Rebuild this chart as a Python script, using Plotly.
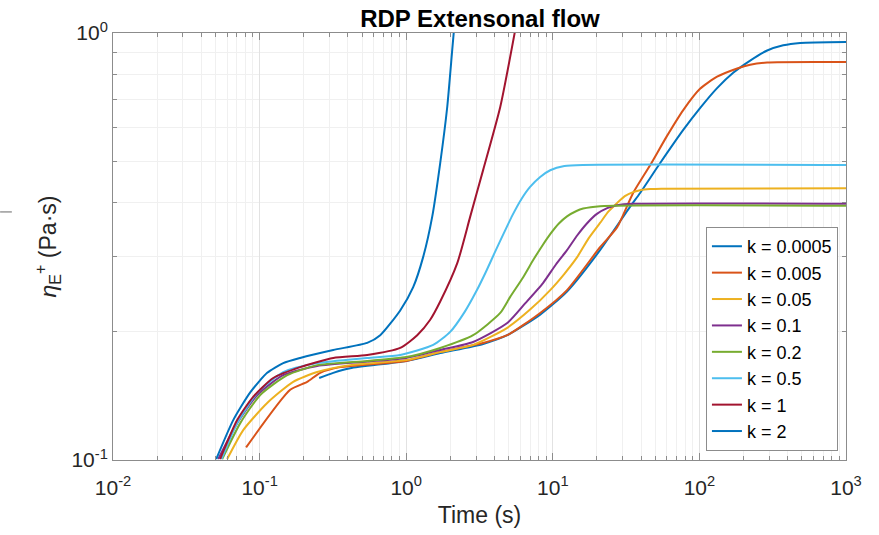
import plotly.graph_objects as go

# time (s) and transient extensional viscosity (Pa.s)
t_k0p0005 = [0.255, 0.318, 0.415, 1.0, 1.706, 3.35, 4.89, 8.2, 12.5, 21, 33.7, 39.4, 54, 77.6, 101, 132, 170, 222, 290, 373, 487, 1000]
eta_k0p0005 = [0.1556, 0.160, 0.164, 0.1706, 0.178, 0.187, 0.196, 0.219, 0.248, 0.310, 0.392, 0.422, 0.496, 0.593, 0.667, 0.743, 0.807, 0.862, 0.910, 0.936, 0.948, 0.953]

t_k0p005 = [0.0809, 0.1617, 0.211, 0.259, 0.355, 1.0, 1.706, 3.35, 4.89, 8.2, 12.5, 21, 27.5, 35.3, 46.1, 60.3, 77.6, 101, 132, 181, 222, 290, 1000]
eta_k0p005 = [0.107, 0.146, 0.1524, 0.160, 0.165, 0.1706, 0.179, 0.188, 0.196, 0.221, 0.250, 0.315, 0.351, 0.422, 0.490, 0.575, 0.660, 0.740, 0.790, 0.826, 0.843, 0.853, 0.855]

t_k0p05 = [0.0601, 0.0773, 0.1127, 0.1694, 0.247, 0.415, 1.0, 1.706, 2.86, 4.89, 7.0, 9.6, 12.0, 14.7, 17.5, 21, 24, 27.5, 31, 35.3, 40, 46.1, 55, 1000]
eta_k0p05 = [0.1005, 0.1175, 0.136, 0.1524, 0.1607, 0.1668, 0.1715, 0.179, 0.186, 0.204, 0.225, 0.250, 0.273, 0.299, 0.330, 0.359, 0.382, 0.400, 0.415, 0.424, 0.429, 0.431, 0.432, 0.433]

t_k0p1 = [0.0522, 0.0703, 0.0964, 0.1449, 0.247, 0.542, 1.0, 1.706, 2.86, 4.89, 6.5, 8.6, 10.5, 12.5, 14.7, 17.2, 20, 23.5, 27.5, 35.3, 1000]
eta_k0p1 = [0.1005, 0.122, 0.142, 0.158, 0.166, 0.170, 0.1734, 0.181, 0.189, 0.2093, 0.233, 0.260, 0.287, 0.310, 0.336, 0.359, 0.377, 0.389, 0.395, 0.398, 0.398]

t_k0p2 = [0.0556, 0.0738, 0.101, 0.1543, 0.247, 0.542, 1.0, 1.706, 2.86, 4.38, 5.12, 6.28, 7.35, 8.5, 9.6, 11.0, 12.5, 14.5, 16.1, 21, 1000]
eta_k0p2 = [0.1005, 0.122, 0.142, 0.158, 0.1668, 0.1706, 0.1742, 0.183, 0.196, 0.221, 0.241, 0.268, 0.294, 0.318, 0.338, 0.358, 0.372, 0.383, 0.388, 0.393, 0.394]

t_k0p5 = [0.055, 0.0703, 0.0964, 0.1449, 0.247, 0.542, 0.91, 1.528, 1.995, 2.5, 3.0, 3.5, 4.0, 4.6, 5.3, 6.1, 7.0, 8.2, 9.6, 12.0, 16.0, 1000]
eta_k0p5 = [0.1005, 0.122, 0.1435, 0.1607, 0.1686, 0.1734, 0.1762, 0.186, 0.1995, 0.222, 0.248, 0.276, 0.305, 0.338, 0.374, 0.408, 0.436, 0.460, 0.477, 0.488, 0.491, 0.491]

t_k1 = [0.0538, 0.0703, 0.0904, 0.1239, 0.189, 0.318, 0.542, 0.91, 1.189, 1.458, 1.706, 2.23, 2.73, 3.35, 4.38, 5.54]
eta_k1 = [0.1005, 0.124, 0.1406, 0.1556, 0.165, 0.1734, 0.1762, 0.183, 0.196, 0.213, 0.235, 0.289, 0.371, 0.478, 0.671, 1.016]

t_k2 = [0.0506, 0.0661, 0.0863, 0.1127, 0.1449, 0.189, 0.318, 0.542, 0.665, 0.91, 1.116, 1.306, 1.504, 1.706, 1.905, 2.06, 2.13]
eta_k2 = [0.1005, 0.124, 0.144, 0.160, 0.1686, 0.1734, 0.181, 0.188, 0.196, 0.224, 0.254, 0.299, 0.371, 0.496, 0.671, 0.912, 1.04]

labels = ["k = 0.0005", "k = 0.005", "k = 0.05", "k = 0.1", "k = 0.2", "k = 0.5", "k = 1", "k = 2"]
colors = ["#0072BD", "#D95319", "#EDB120", "#7E2F8E", "#77AC30", "#4DBEEE", "#A2142F", "#0072BD"]

series = [
    (t_k0p0005, eta_k0p0005),
    (t_k0p005, eta_k0p005),
    (t_k0p05, eta_k0p05),
    (t_k0p1, eta_k0p1),
    (t_k0p2, eta_k0p2),
    (t_k0p5, eta_k0p5),
    (t_k1, eta_k1),
    (t_k2, eta_k2),
]

x_major = [10.0 ** e for e in range(-2, 4)]
x_minor = [m * 10.0 ** e for e in range(-2, 3) for m in range(2, 10)]
y_major = [0.1, 1.0]
y_minor = [m / 10 for m in range(2, 10)]

FONT = "Arial, Liberation Sans, Helvetica, sans-serif"

fig = go.Figure()
for (t, eta), name, c in zip(series, labels, colors):
    fig.add_trace(go.Scatter(x=t, y=eta, mode="lines", name=name,
                             line=dict(color=c, width=2, shape="spline", smoothing=0.6)))

axis_common = dict(
    type="log",
    showline=True,
    linecolor="#8c8c8c",
    linewidth=1,
    mirror="ticks",
    ticks="inside",
    ticklen=7,
    tickcolor="#8c8c8c",
    gridcolor="#e2e2e2",
    zeroline=False,
    tickfont=dict(family=FONT, size=21, color="#262626"),
)

fig.update_xaxes(
    **axis_common,
    range=[-2, 3],
    tickvals=x_major,
    ticktext=[f"10<sup>{e}</sup>" for e in range(-2, 4)],
    ticklabelstandoff=9,
    minor=dict(tickvals=x_minor, ticks="inside", ticklen=4, tickcolor="#8c8c8c",
               showgrid=True, gridcolor="#f0f0f0"),
    title=dict(text="Time (s)", font=dict(family=FONT, size=23, color="#262626"), standoff=8),
)
fig.update_yaxes(
    **axis_common,
    range=[-1, 0],
    tickvals=y_major,
    ticktext=["10<sup>-1</sup>", "10<sup>0</sup>"],
    minor=dict(tickvals=y_minor, ticks="inside", ticklen=4, tickcolor="#8c8c8c",
               showgrid=True, gridcolor="#f0f0f0"),
    title=dict(text="<i>η</i><sub>E</sub><sup>+</sup> (Pa·s)",
               font=dict(family=FONT, size=23, color="#262626"), standoff=8),
)

fig.add_shape(type="line", xref="paper", yref="paper",
              x0=-0.154, x1=-0.138, y0=0.581, y1=0.581,
              line=dict(color="#9a9a9a", width=1.5))

fig.update_layout(
    width=879,
    height=535,
    margin=dict(l=113, r=33, t=33, b=75),
    paper_bgcolor="white",
    plot_bgcolor="white",
    title=dict(text="<b>RDP Extensonal flow</b>", x=0.546, xanchor="center",
               y=0.966, yanchor="middle",
               font=dict(family=FONT, size=24, color="#000000")),
    legend=dict(
        x=0.989, xanchor="right", y=0.021, yanchor="bottom",
        bgcolor="white", bordercolor="#8c8c8c", borderwidth=1,
        font=dict(family=FONT, size=18, color="#000000"),
        itemwidth=30, tracegroupgap=0,
    ),
    showlegend=True,
)

fig.write_html("out.html", config={"displayModeBar": False},
               post_script="document.body.style.margin='0';")
